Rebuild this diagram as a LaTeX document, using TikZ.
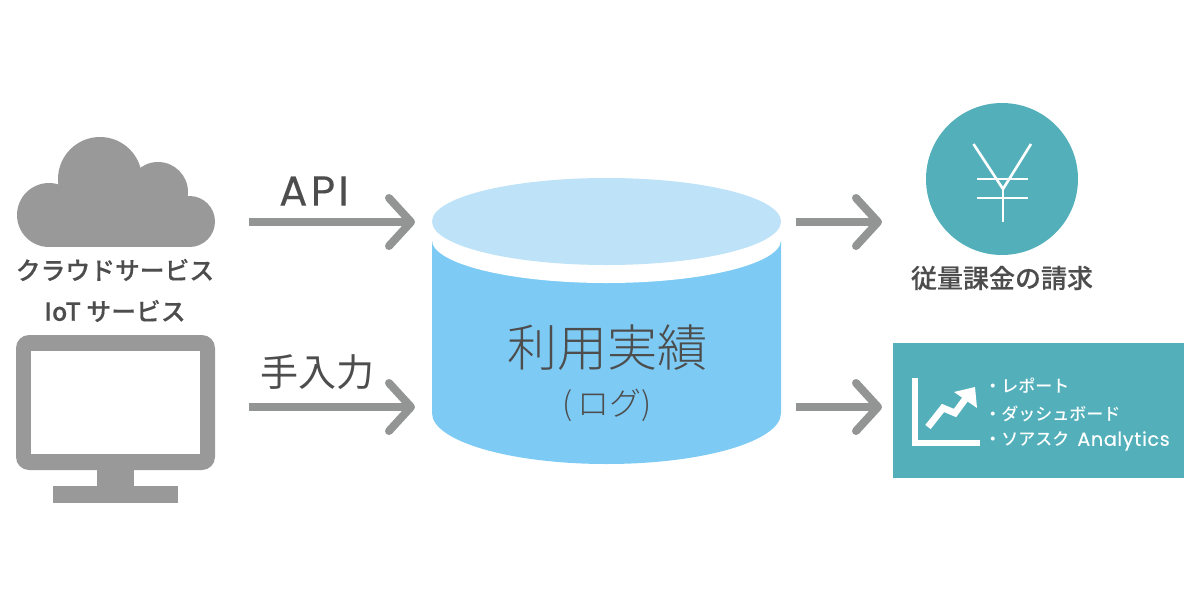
\documentclass[tikz,border=0pt]{standalone}
\usepackage{fontspec}
\usetikzlibrary{arrows.meta,positioning}
\setmainfont{Poppins}
\newfontfamily\jpfont{Noto Sans CJK JP}
\newfontfamily\jplight{Noto Sans CJK JP Light}
\newfontfamily\jpmedium{Noto Sans CJK JP Medium}
\newfontfamily\jpheavy[FakeBold=0.3]{Noto Sans CJK JP Medium}
\newfontfamily\apifont[LetterSpace=8,FakeBold=0.3]{Poppins}
\newfontfamily\latinfont[LetterSpace=4,FakeBold=0.3]{Poppins}
\definecolor{icongrey}{HTML}{999999}
\definecolor{flowgrey}{HTML}{939594}
\definecolor{inkgrey}{HTML}{4D4D4D}
\definecolor{teal}{HTML}{53B0BB}
\definecolor{storetop}{HTML}{BEE3F8}
\definecolor{storebody}{HTML}{7DCBF5}
\tikzset{
    flow/.style={draw=flowgrey,line width=4pt,-{Straight Barb[round,length=11pt,width=24pt]}},
    label/.style={text=inkgrey,inner sep=0pt},
    service/.style={label,font=\jpheavy\fontsize{12.4}{12.4}\selectfont},
    listitem/.style={text=white,inner sep=0pt,anchor=west,font=\jpmedium\fontsize{8.5}{8.5}\selectfont},
    yenline/.style={white,line width=1.3pt},
}
\begin{document}
\begin{tikzpicture}[x=0.5pt,y=-0.5pt,on grid]
    \useasboundingbox (0,0) rectangle (1200,600);

    % cloud
    \fill[icongrey] (100,179) circle (42);
    \fill[icongrey] (158,192) circle (30);
    \fill[icongrey] (49,215) circle (32);
    \fill[icongrey] (189.5,221.5) circle (25.5);
    \fill[icongrey] (49,200) rectangle (190,247);
    \node[service] (cloud_label) at (115,270) {クラウドサービス};
    \node[service] [below=20.5pt of cloud_label] (iot_label) {IoT サービス};

    % monitor
    \fill[icongrey,rounded corners=6.5pt] (16,335) rectangle (215,470);
    \fill[white] (31,351) rectangle (200,454);
    \fill[icongrey] (97,470) rectangle (134,487);
    \fill[icongrey] (53,486) rectangle (178,503);

    % store
    \fill[storebody] (432,240) -- (432,413) arc[start angle=180,end angle=0,x radius=174.5,y radius=51] -- (781,240) -- cycle;
    \fill[white] (606.5,240) ellipse[x radius=174.5,y radius=43];
    \fill[storetop] (606.5,221.5) ellipse[x radius=174.5,y radius=43.5];
    \node[label,font=\jplight\fontsize{25}{25}\selectfont] (store) at (607,348) {利用実績};
    \node[label,font=\jplight\fontsize{16}{16}\selectfont] [below=28.5pt of store] (store_sub) {(\,ログ)};

    % arrows
    \coordinate (api_a) at (249,222);
    \coordinate[right=83pt of api_a] (api_b);
    \coordinate (manual_a) at (249,407);
    \coordinate[right=83pt of manual_a] (manual_b);
    \coordinate (bill_a) at (796,222);
    \coordinate[right=43pt of bill_a] (bill_b);
    \coordinate (report_a) at (796,407);
    \coordinate[right=43pt of report_a] (report_b);
    \path
    (api_a) edge[flow] (api_b)
    (manual_a) edge[flow] (manual_b)
    (bill_a) edge[flow] (bill_b)
    (report_a) edge[flow] (report_b)
    ;
    \node[label,font=\apifont\fontsize{21}{21}\selectfont] (api) at (314,191) {API};
    \node[label,font=\jpfont\fontsize{19}{19}\selectfont] (manual) at (317,372) {手入力};

    % billing
    \node[fill=teal,circle,minimum size=76pt,inner sep=0pt] (bill) at (1002,179) {};
    \draw[yenline] (973.5,144) -- (1003,189) -- (1031,144);
    \draw[yenline] (1003,189) -- (1003,222);
    \draw[yenline] (977,179) -- (1028,179);
    \draw[yenline] (977,198) -- (1028,198);
    \node[label,font=\jpheavy\fontsize{13}{13}\selectfont] (bill_label) at (1002,278) {従量課金の請求};

    % report
    \fill[teal] (893,343) rectangle (1184,478);
    \fill[white] (912,378) rectangle (918,446);
    \fill[white] (912,440) rectangle (980,446);
    \draw[white,line width=3.4pt] (928,427) -- (943,408) -- (955,413) -- (969,394);
    \fill[white] (954,392) -- (975,387) -- (977,408) -- cycle;
    \node[listitem] (item_a) at (984,386) {・レポート};
    \node[listitem] [below=13.75pt of item_a.west,anchor=west] (item_b) {・ダッシュボード};
    \node[listitem] [below=13.75pt of item_b.west,anchor=west] (item_c) {・ソアスク\hspace{4pt}{\latinfont\fontsize{9.5}{9.5}\selectfont Analytics}};
\end{tikzpicture}
\end{document}
